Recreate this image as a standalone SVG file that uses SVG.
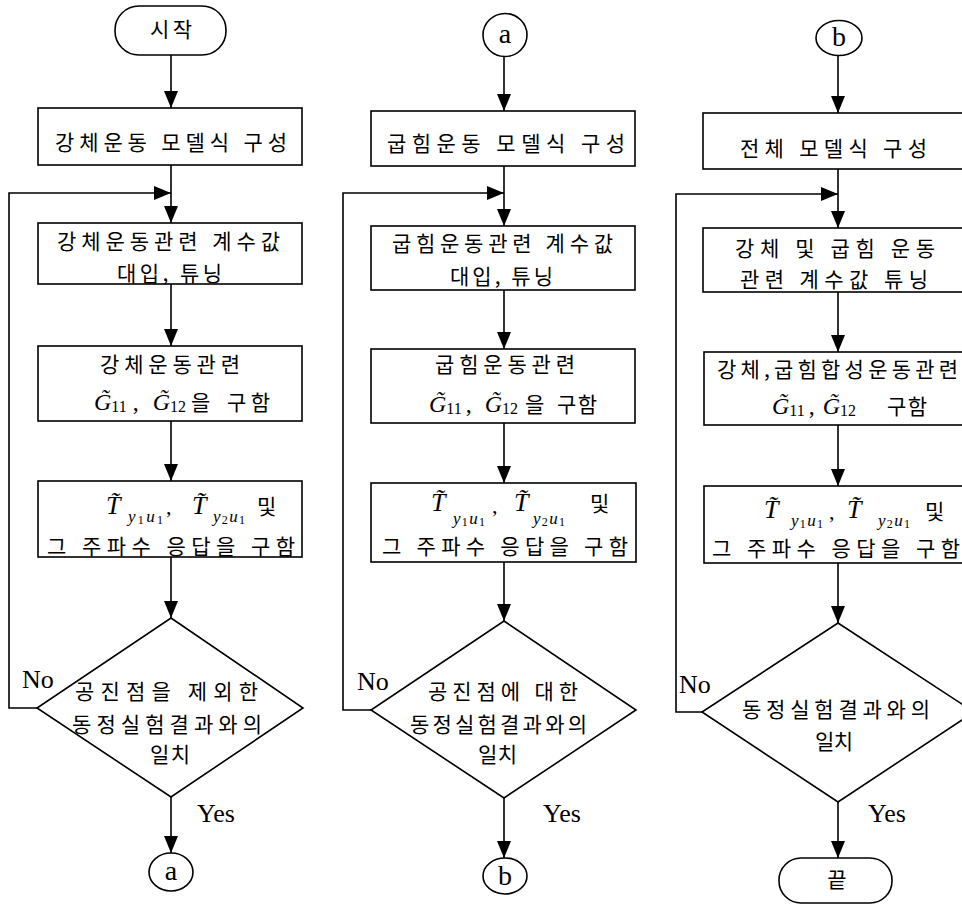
<svg xmlns="http://www.w3.org/2000/svg" width="962" height="905" viewBox="0 0 962 905">
<defs>
<marker id="ah" markerUnits="userSpaceOnUse" markerWidth="18" markerHeight="14" refX="17" refY="7" orient="auto">
<path d="M0,0 L17,7 L0,14 z" fill="#000"/>
</marker>
<style>
.s{fill:#fff;stroke:#000;stroke-width:1.6}
.c{fill:none;stroke:#000;stroke-width:1.6}
.a{marker-end:url(#ah)}
.k{font-family:"Noto Sans CJK KR","Noto Sans",sans-serif;font-size:21px;fill:#000}
.l{font-family:"Liberation Serif",serif;font-size:26px;fill:#000}
.m{font-family:"Liberation Serif","DejaVu Serif",serif;font-style:italic;fill:#000}
.n{font-family:"Liberation Serif",serif;fill:#000}
.g{font-family:"Liberation Serif","DejaVu Serif",serif;font-style:italic;font-size:24px;fill:#000}
.t{font-family:"Liberation Serif","DejaVu Serif",serif;font-style:italic;font-size:26px;fill:#000}
</style>
</defs>
<rect width="962" height="905" fill="#fff"/>

<g id="connectors">
<path class="c a" d="M171,55 V108"/>
<path class="c" d="M171,165 V193"/>
<path class="c a" d="M171,193 V223"/>
<path class="c a" d="M171,284 V346"/>
<path class="c a" d="M171,421 V481"/>
<path class="c a" d="M171,557 V618"/>
<path class="c a" d="M171,797 V853"/>
<path class="c a" d="M37,708 H9 V193 H171"/>

<path class="c a" d="M504,57 V111"/>
<path class="c" d="M504,166 V193"/>
<path class="c a" d="M504,193 V226"/>
<path class="c a" d="M504,290 V349"/>
<path class="c a" d="M504,423 V483"/>
<path class="c a" d="M504,562 V621"/>
<path class="c a" d="M504,798 V858"/>
<path class="c a" d="M371,710 H343 V193 H504"/>

<path class="c a" d="M838,55 V113"/>
<path class="c" d="M838,169 V194"/>
<path class="c a" d="M838,194 V228"/>
<path class="c a" d="M838,292 V352"/>
<path class="c a" d="M838,425 V486"/>
<path class="c a" d="M838,563 V623"/>
<path class="c a" d="M838,802 V858"/>
<path class="c a" d="M702,712 H676 V194 H838"/>

<text class="l" x="22" y="688">No</text>
<text class="l" x="197" y="822">Yes</text>
<text class="l" x="357" y="690">No</text>
<text class="l" x="543" y="822">Yes</text>
<text class="l" x="679" y="693">No</text>
<text class="l" x="868" y="822">Yes</text>
</g>

<!-- Column 1 -->
<g id="start">
<rect class="s" x="115" y="6" width="111" height="49" rx="24"/>
<text class="k" x="150" y="37" textLength="42" lengthAdjust="spacing">시작</text>
</g>
<g id="c1b1">
<rect class="s" x="38" y="108" width="264" height="57"/>
<text class="k" x="55" y="150" textLength="232" lengthAdjust="spacing">강체운동 모델식 구성</text>
</g>
<g id="c1b2">
<rect class="s" x="38" y="223" width="264" height="61"/>
<text class="k" x="57" y="249" textLength="223" lengthAdjust="spacing">강체운동관련 계수값</text>
<text class="k" x="117" y="281" textLength="105" lengthAdjust="spacing">대입, 튜닝</text>
</g>
<g id="c1b3">
<rect class="s" x="38" y="346" width="264" height="75"/>
<text class="k" x="100" y="372" textLength="140" lengthAdjust="spacing">강체운동관련</text>
<text class="g" x="94" y="410">G̃<tspan class="n" font-style="normal" font-size="16" dy="2">11</tspan><tspan font-style="normal" dx="6" dy="-2">,</tspan><tspan dx="14">G̃</tspan><tspan class="n" font-style="normal" font-size="16" dy="2">12</tspan></text>
<text class="k" x="191" y="410">을</text>
<text class="k" x="227" y="410" textLength="43" lengthAdjust="spacing">구함</text>
</g>
<g id="c1b4">
<rect class="s" x="38" y="481" width="264" height="76"/>
<text class="t" x="106" y="514">T̃</text>
<text class="m" x="128" y="522" font-size="17" textLength="35" lengthAdjust="spacing">y<tspan class="n" font-style="normal" font-size="12" dy="2">1</tspan><tspan dy="-2">u</tspan><tspan class="n" font-style="normal" font-size="12" dy="2">1</tspan></text>
<text class="n" x="166" y="514" font-size="22">,</text>
<text class="t" x="192" y="514">T̃</text>
<text class="m" x="213" y="522" font-size="17" textLength="32" lengthAdjust="spacing">y<tspan class="n" font-style="normal" font-size="12" dy="2">2</tspan><tspan dy="-2">u</tspan><tspan class="n" font-style="normal" font-size="12" dy="2">1</tspan></text>
<text class="k" x="257" y="514">및</text>
<text class="k" x="47" y="554" textLength="248" lengthAdjust="spacing">그 주파수 응답을 구함</text>
</g>
<g id="c1d">
<polygon class="s" points="171,618 303,708 171,797 37,708"/>
<text class="k" x="75" y="699" textLength="183" lengthAdjust="spacing">공진점을 제외한</text>
<text class="k" x="72" y="732" textLength="190" lengthAdjust="spacing">동정실험결과와의</text>
<text class="k" x="150" y="762" textLength="40" lengthAdjust="spacing">일치</text>
</g>
<g id="c1a">
<ellipse class="s" cx="171" cy="872" rx="22" ry="19"/>
<text class="n" x="171" y="880" font-size="28" text-anchor="middle">a</text>
</g>

<!-- Column 2 -->
<g id="c2a">
<ellipse class="s" cx="505" cy="35" rx="22" ry="21.5"/>
<text class="n" x="505" y="43" font-size="28" text-anchor="middle">a</text>
</g>
<g id="c2b1">
<rect class="s" x="371" y="111" width="264" height="55"/>
<text class="k" x="387" y="151" textLength="238" lengthAdjust="spacing">굽힘운동 모델식 구성</text>
</g>
<g id="c2b2">
<rect class="s" x="371" y="226" width="264" height="64"/>
<text class="k" x="392" y="251" textLength="221" lengthAdjust="spacing">굽힘운동관련 계수값</text>
<text class="k" x="450" y="284" textLength="103" lengthAdjust="spacing">대입, 튜닝</text>
</g>
<g id="c2b3">
<rect class="s" x="371" y="349" width="264" height="74"/>
<text class="k" x="435" y="372" textLength="140" lengthAdjust="spacing">굽힘운동관련</text>
<text class="g" x="429" y="412">G̃<tspan class="n" font-style="normal" font-size="16" dy="2">11</tspan><tspan font-style="normal" dx="4" dy="-2">,</tspan><tspan dx="13">G̃</tspan><tspan class="n" font-style="normal" font-size="16" dy="2">12</tspan></text>
<text class="k" x="525" y="412">을</text>
<text class="k" x="557" y="412" textLength="40" lengthAdjust="spacing">구함</text>
</g>
<g id="c2b4">
<rect class="s" x="371" y="483" width="265" height="79"/>
<text class="t" x="431" y="511">T̃</text>
<text class="m" x="453" y="524" font-size="17" textLength="32" lengthAdjust="spacing">y<tspan class="n" font-style="normal" font-size="12" dy="2">1</tspan><tspan dy="-2">u</tspan><tspan class="n" font-style="normal" font-size="12" dy="2">1</tspan></text>
<text class="n" x="492" y="513" font-size="22">,</text>
<text class="t" x="514" y="511">T̃</text>
<text class="m" x="533" y="524" font-size="17" textLength="32" lengthAdjust="spacing">y<tspan class="n" font-style="normal" font-size="12" dy="2">2</tspan><tspan dy="-2">u</tspan><tspan class="n" font-style="normal" font-size="12" dy="2">1</tspan></text>
<text class="k" x="590" y="511">및</text>
<text class="k" x="382" y="554" textLength="246" lengthAdjust="spacing">그 주파수 응답을 구함</text>
</g>
<g id="c2d">
<polygon class="s" points="504,621 636,710 504,798 371,710"/>
<text class="k" x="428" y="699" textLength="150" lengthAdjust="spacing">공진점에 대한</text>
<text class="k" x="410" y="732" textLength="177" lengthAdjust="spacing">동정실험결과와의</text>
<text class="k" x="478" y="762" textLength="39" lengthAdjust="spacing">일치</text>
</g>
<g id="c2bb">
<ellipse class="s" cx="505" cy="876" rx="22" ry="18"/>
<text class="n" x="505" y="885" font-size="28" text-anchor="middle">b</text>
</g>

<!-- Column 3 -->
<g id="c3b">
<ellipse class="s" cx="839" cy="38" rx="23" ry="17.5"/>
<text class="n" x="839" y="46" font-size="28" text-anchor="middle">b</text>
</g>
<g id="c3b1">
<rect class="s" x="703" y="113" width="270" height="56"/>
<text class="k" x="740" y="156" textLength="187" lengthAdjust="spacing">전체 모델식 구성</text>
</g>
<g id="c3b2">
<rect class="s" x="703" y="228" width="270" height="64"/>
<text class="k" x="735" y="256" textLength="200" lengthAdjust="spacing">강체 및 굽힘 운동</text>
<text class="k" x="740" y="287" textLength="188" lengthAdjust="spacing">관련 계수값 튜닝</text>
</g>
<g id="c3b3">
<rect class="s" x="704" y="352" width="270" height="73"/>
<text class="k" x="717" y="377" textLength="241" lengthAdjust="spacing">강체,굽힘합성운동관련</text>
<text class="g" x="772" y="414">G̃<tspan class="n" font-style="normal" font-size="16" dy="2">11</tspan><tspan font-style="normal" dx="4" dy="-2">,</tspan><tspan dx="8">G̃</tspan><tspan class="n" font-style="normal" font-size="16" dy="2">12</tspan></text>
<text class="k" x="887" y="414" textLength="40" lengthAdjust="spacing">구함</text>
</g>
<g id="c3b4">
<rect class="s" x="704" y="486" width="270" height="77"/>
<text class="t" x="764" y="518">T̃</text>
<text class="m" x="791" y="526" font-size="17" textLength="32" lengthAdjust="spacing">y<tspan class="n" font-style="normal" font-size="12" dy="2">1</tspan><tspan dy="-2">u</tspan><tspan class="n" font-style="normal" font-size="12" dy="2">1</tspan></text>
<text class="n" x="829" y="519" font-size="22">,</text>
<text class="t" x="847" y="518">T̃</text>
<text class="m" x="878" y="526" font-size="17" textLength="32" lengthAdjust="spacing">y<tspan class="n" font-style="normal" font-size="12" dy="2">2</tspan><tspan dy="-2">u</tspan><tspan class="n" font-style="normal" font-size="12" dy="2">1</tspan></text>
<text class="k" x="925" y="519">및</text>
<text class="k" x="712" y="556" textLength="248" lengthAdjust="spacing">그 주파수 응답을 구함</text>
</g>
<g id="c3d">
<polygon class="s" points="838,623 974,712 838,802 702,712"/>
<text class="k" x="742" y="717" textLength="188" lengthAdjust="spacing">동정실험결과와의</text>
<text class="k" x="815" y="749" textLength="38" lengthAdjust="spacing">일치</text>
</g>
<g id="end">
<rect class="s" x="779" y="858" width="113" height="45" rx="22"/>
<text class="k" x="837" y="887" text-anchor="middle">끝</text>
</g>
</svg>
